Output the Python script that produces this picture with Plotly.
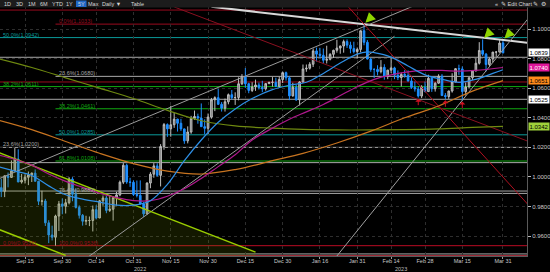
import plotly.graph_objects as go
import pandas as pd

# ---------------- DATA ----------------
trade_dates = list(pd.bdate_range("2022-09-05", "2023-03-31").strftime("%Y-%m-%d"))

opens = [
    # Sep
    0.9953,0.9928,0.9903,1.0008,0.9997,1.0041,1.0121,0.9966,0.9978,0.9998,1.0015,1.0026,0.9971,0.9836,0.9838,0.9690,0.9608,0.9593,0.9736,0.9818,
    # Oct
    0.9802,0.9826,0.9986,0.9883,0.9794,0.9741,0.9701,0.9706,0.9706,0.9779,0.9723,0.9839,0.9858,0.9774,0.9782,0.9861,0.9879,0.9965,1.0079,0.9966,0.9964,
    # Nov
    0.9882,0.9876,0.9818,0.9751,0.9959,1.0019,1.0075,1.0011,1.0206,1.0354,1.0325,1.0353,1.0391,1.0363,1.0325,1.0244,1.0304,1.0396,1.0409,1.0398,1.0340,1.0329,
    # Dec
    1.0405,1.0522,1.0536,1.0491,1.0465,1.0508,1.0556,1.0536,1.0537,1.0630,1.0678,1.0630,1.0585,1.0608,1.0622,1.0605,1.0596,1.0631,1.0639,1.0640,1.0612,1.0659,
    # Jan
    1.0705,1.0670,1.0548,1.0607,1.0521,1.0642,1.0730,1.0735,1.0762,1.0852,1.0830,1.0822,1.0789,1.0795,1.0829,1.0856,1.0871,1.0885,1.0915,1.0891,1.0868,1.0847,
    # Feb
    1.0862,1.0988,1.0910,1.0797,1.0727,1.0727,1.0712,1.0741,1.0679,1.0722,1.0737,1.0688,1.0672,1.0693,1.0687,1.0649,1.0605,1.0595,1.0547,1.0607,
    # Mar
    1.0577,1.0667,1.0596,1.0634,1.0681,1.0550,1.0544,1.0581,1.0642,1.0732,1.0730,1.0577,1.0608,1.0671,1.0717,1.0769,1.0855,1.0830,1.0760,1.0797,1.0844,1.0844,1.0905,
]
highs = [
    0.9953,0.9988,1.0011,1.0030,1.0112,1.0198,1.0187,1.0020,1.0018,1.0037,1.0030,1.0051,0.9974,0.9907,0.9852,0.9708,0.9671,0.9745,0.9838,0.9855,
    0.9852,0.9999,0.9999,0.9922,0.9808,0.9750,0.9738,0.9733,0.9807,0.9809,0.9845,0.9875,0.9872,0.9875,0.9868,0.9900,0.9976,1.0094,1.0090,0.9994,0.9977,
    0.9976,0.9977,0.9830,0.9964,1.0033,1.0094,1.0093,1.0222,1.0365,1.0362,1.0481,1.0433,1.0393,1.0393,1.0327,1.0342,1.0413,1.0449,1.0428,1.0497,1.0390,1.0429,
    1.0534,1.0545,1.0595,1.0506,1.0530,1.0564,1.0588,1.0572,1.0673,1.0695,1.0736,1.0637,1.0640,1.0658,1.0638,1.0650,1.0635,1.0644,1.0675,1.0671,1.0678,1.0713,
    1.0712,1.0683,1.0637,1.0624,1.0647,1.0760,1.0760,1.0776,1.0868,1.0874,1.0873,1.0868,1.0887,1.0836,1.0860,1.0927,1.0888,1.0928,1.0930,1.0914,1.0914,1.0875,
    1.0990,1.1033,1.0925,1.0805,1.0734,1.0755,1.0790,1.0762,1.0724,1.0805,1.0745,1.0720,1.0705,1.0722,1.0720,1.0673,1.0645,1.0613,1.0620,1.0645,
    1.0691,1.0675,1.0640,1.0694,1.0695,1.0567,1.0583,1.0701,1.0736,1.0759,1.0747,1.0638,1.0671,1.0723,1.0802,1.0911,1.0930,1.0838,1.0807,1.0845,1.0850,1.0925,1.0926,
]
lows = [
    0.9877,0.9864,0.9864,0.9930,0.9995,1.0041,0.9966,0.9955,0.9956,0.9945,0.9966,0.9971,0.9810,0.9807,0.9669,0.9553,0.9571,0.9536,0.9635,0.9748,
    0.9753,0.9815,0.9836,0.9787,0.9719,0.9671,0.9675,0.9668,0.9632,0.9713,0.9722,0.9806,0.9755,0.9764,0.9705,0.9807,0.9870,0.9952,0.9954,0.9933,0.9872,
    0.9862,0.9813,0.9730,0.9745,0.9924,0.9995,1.0002,0.9936,1.0184,1.0271,1.0272,1.0332,1.0307,1.0311,1.0224,1.0227,1.0292,1.0386,1.0360,1.0339,1.0289,1.0290,
    1.0394,1.0445,1.0487,1.0442,1.0442,1.0491,1.0523,1.0487,1.0518,1.0621,1.0602,1.0566,1.0574,1.0582,1.0591,1.0573,1.0584,1.0628,1.0611,1.0607,1.0610,1.0635,
    1.0651,1.0519,1.0543,1.0515,1.0483,1.0637,1.0711,1.0726,1.0743,1.0780,1.0802,1.0766,1.0767,1.0788,1.0805,1.0840,1.0833,1.0840,1.0872,1.0836,1.0835,1.0800,
    1.0842,1.0890,1.0794,1.0711,1.0669,1.0687,1.0700,1.0658,1.0661,1.0702,1.0661,1.0655,1.0612,1.0671,1.0645,1.0595,1.0577,1.0536,1.0533,1.0573,
    1.0575,1.0575,1.0577,1.0630,1.0548,1.0525,1.0528,1.0570,1.0640,1.0690,1.0516,1.0551,1.0604,1.0655,1.0713,1.0760,1.0818,1.0713,1.0750,1.0775,1.0812,1.0841,1.0835,
]
closes = [
    0.9928,0.9903,1.0008,0.9997,1.0041,1.0121,0.9966,0.9978,0.9998,1.0015,1.0026,0.9971,0.9836,0.9838,0.9690,0.9608,0.9593,0.9736,0.9818,0.9802,
    0.9826,0.9986,0.9883,0.9794,0.9741,0.9701,0.9706,0.9706,0.9779,0.9723,0.9839,0.9858,0.9774,0.9782,0.9861,0.9879,0.9965,1.0079,0.9966,0.9964,0.9882,
    0.9876,0.9818,0.9751,0.9959,1.0019,1.0075,1.0011,1.0206,1.0354,1.0325,1.0353,1.0391,1.0363,1.0325,1.0244,1.0304,1.0396,1.0409,1.0398,1.0340,1.0329,1.0405,
    1.0522,1.0536,1.0491,1.0465,1.0508,1.0556,1.0536,1.0537,1.0630,1.0678,1.0630,1.0585,1.0608,1.0622,1.0605,1.0596,1.0631,1.0639,1.0640,1.0612,1.0659,1.0705,
    1.0670,1.0548,1.0607,1.0521,1.0642,1.0730,1.0735,1.0762,1.0852,1.0830,1.0822,1.0789,1.0795,1.0829,1.0856,1.0871,1.0885,1.0915,1.0891,1.0868,1.0847,1.0862,
    1.0988,1.0910,1.0797,1.0727,1.0727,1.0712,1.0741,1.0679,1.0722,1.0737,1.0688,1.0672,1.0693,1.0687,1.0649,1.0605,1.0595,1.0547,1.0607,1.0577,
    1.0667,1.0596,1.0634,1.0681,1.0550,1.0544,1.0581,1.0642,1.0732,1.0730,1.0577,1.0608,1.0671,1.0717,1.0769,1.0855,1.0830,1.0760,1.0797,1.0844,1.0844,1.0905,1.0839,
]

# moving averages
ma_blue_dates = ["2022-09-05","2022-09-12","2022-09-19","2022-09-26","2022-10-03","2022-10-10","2022-10-17","2022-10-24",
                 "2022-10-31","2022-11-07","2022-11-14","2022-11-21","2022-11-28","2022-12-05","2022-12-12","2022-12-19",
                 "2022-12-27","2023-01-03","2023-01-10","2023-01-17","2023-01-24","2023-01-31","2023-02-03","2023-02-07",
                 "2023-02-14","2023-02-21","2023-02-28","2023-03-07","2023-03-14","2023-03-21","2023-03-28","2023-03-31"]
ma_blue_vals = [1.0070,1.0040,1.0010,0.9940,0.9880,0.9850,0.9830,0.9810,0.9810,0.9840,0.9950,1.0110,1.0250,1.0370,1.0460,1.0530,
                1.0590,1.0620,1.0640,1.0700,1.0770,1.0830,1.0845,1.0840,1.0810,1.0750,1.0690,1.0660,1.0640,1.0660,1.0700,1.0725]

ma_mag_dates = ["2022-09-05","2022-09-12","2022-09-19","2022-09-26","2022-10-03","2022-10-10","2022-10-17","2022-10-24",
                "2022-10-31","2022-11-07","2022-11-14","2022-11-21","2022-11-28","2022-12-05","2022-12-12","2022-12-19",
                "2022-12-27","2023-01-03","2023-01-10","2023-01-17","2023-01-24","2023-01-31","2023-02-07","2023-02-14",
                "2023-02-21","2023-02-28","2023-03-07","2023-03-14","2023-03-21","2023-03-31"]
ma_mag_vals = [1.0150,1.0120,1.0080,1.0020,0.9970,0.9930,0.9890,0.9860,0.9840,0.9840,0.9870,0.9920,0.9990,1.0070,1.0150,1.0250,
               1.0330,1.0390,1.0440,1.0490,1.0550,1.0610,1.0660,1.0690,1.0710,1.0720,1.0720,1.0715,1.0720,1.0740]

ma_org_dates = ["2022-09-05","2022-09-19","2022-10-03","2022-10-17","2022-10-31","2022-11-14","2022-11-28","2022-12-12",
                "2022-12-27","2023-01-09","2023-01-23","2023-02-06","2023-02-20","2023-03-06","2023-03-20","2023-03-31"]
ma_org_vals = [1.0385,1.0320,1.0240,1.0160,1.0090,1.0040,1.0020,1.0050,1.0110,1.0160,1.0230,1.0310,1.0400,1.0480,1.0580,1.0651]

ma_olv_dates = ["2022-09-05","2022-09-19","2022-10-03","2022-10-17","2022-10-31","2022-11-14","2022-11-28","2022-12-12",
                "2022-12-27","2023-01-09","2023-01-23","2023-02-06","2023-02-20","2023-03-06","2023-03-20","2023-03-31"]
ma_olv_vals = [1.0800,1.0740,1.0670,1.0600,1.0530,1.0450,1.0380,1.0345,1.0330,1.0322,1.0318,1.0318,1.0320,1.0325,1.0335,1.0342]

# Fibonacci sets
fib1_start = "2022-09-28"
fib1_pct = ["0.0%", "23.6%", "38.2%", "50.0%", "61.8%", "76.4%", "100.0%"]
fib1_vals = [1.1033, 1.0680, 1.0461, 1.0285, 1.0108, 0.9889, 0.9536]
fib2_pct = ["0.0%", "23.6%", "38.2%", "50.0%"]
fib2_vals = [0.9536, 1.0200, 1.0611, 1.0942]
# other horizontal levels (full width)
level_vals = [1.1128, 1.0809, 1.0642, 1.0525, 1.0097, 0.9905, 0.9480, 0.9468]

# trend lines: (start date, start price, end date, end price)
trend_lines = [
    ("2022-12-01", 1.1150, "2023-04-12", 1.0905),   # white resistance
    ("2022-09-05", 0.9985, "2023-02-28", 1.1188),   # grey upper channel
    ("2022-10-10", 0.9433, "2023-02-15", 1.0951),   # grey lower channel
    ("2023-01-23", 0.9466, "2023-04-12", 1.1087),   # grey steep
    ("2023-01-25", 1.1184, "2023-04-12", 0.9798),   # red steep
    ("2022-11-16", 1.1149, "2023-04-12", 1.0236),   # red shallow
    ("2022-09-05", 1.0168, "2022-12-20", 0.9492),   # lime upper
    ("2022-09-05", 0.9648, "2022-10-03", 0.9470),   # lime lower
]
peak_dates = ["2023-02-02", "2023-03-23", "2023-03-31"]
peak_vals = [1.1033, 1.0930, 1.0926]
trough_dates = ["2023-02-24", "2023-03-08", "2023-03-15"]
trough_vals = [1.0536, 1.0525, 1.0516]

tick_dates = ["2022-09-15","2022-09-30","2022-10-14","2022-10-31","2022-11-15","2022-11-30","2022-12-15",
              "2022-12-30","2023-01-16","2023-01-31","2023-02-14","2023-02-28","2023-03-15","2023-03-31"]
tick_text = ["Sep 15","Sep 30","Oct 14","Oct 31","Nov 15","Nov 30","Dec 15",
             "Dec 30","Jan 16","Jan 31","Feb 14","Feb 28","Mar 15","Mar 31"]
year_dates = ["2022-11-02", "2023-02-17"]
year_text = ["2022", "2023"]
price_ticks = [0.96, 0.98, 1.00, 1.02, 1.04, 1.06, 1.08, 1.10]

# ---------------- STYLES ----------------
FONT = "Liberation Sans, Arial, sans-serif"
RED = "#9a0a1e"
GREY = "#a8a8a8"
GREEN = "#11a811"
TEAL = "#0a9a9a"
fib1_colors = [RED, GREY, GREEN, TEAL, GREEN, GREY, RED]
fib2_colors = [RED, GREY, GREEN, TEAL]
level_colors = [RED, GREY, RED, GREY, GREY, GREY, GREY, "#c03040"]
trend_colors = ["#d8d8d8", "#9a9a9a", "#9a9a9a", "#a0a0a0", "#b01020", "#8a1020", "#9acd00", "#9acd00"]
trend_widths = [2, 1, 1, 1, 1, 1, 1.5, 1.5]

fig = go.Figure()

# channel fill
lu = trend_lines[6]
fig.add_trace(go.Scatter(x=[lu[0], lu[2], lu[2], lu[0]], y=[lu[1], lu[3], 0.90, 0.90],
                         fill="toself", fillcolor="rgba(110,140,0,0.17)", mode="none",
                         hoverinfo="skip", showlegend=False))

shapes = []
annotations = []
for v, c in zip(level_vals, level_colors):
    shapes.append(dict(type="line", xref="paper", x0=0, x1=1, yref="y", y0=v, y1=v,
                       line=dict(color=c, width=1), layer="below"))
for p, v, c in zip(fib2_pct, fib2_vals, fib2_colors):
    shapes.append(dict(type="line", xref="paper", x0=0, x1=1, yref="y", y0=v, y1=v,
                       line=dict(color=c, width=1), layer="below"))
    annotations.append(dict(xref="paper", x=0, xshift=1, y=v, yref="y", yanchor="bottom", xanchor="left",
                            text=f"{p}({v:.4f})", showarrow=False, yshift=-2,
                            font=dict(size=5.5, color=c, family=FONT)))
for p, v, c in zip(fib1_pct, fib1_vals, fib1_colors):
    shapes.append(dict(type="line", xref="x", x0=fib1_start, x1="2023-04-14", yref="y", y0=v, y1=v,
                       line=dict(color=c, width=1), layer="below"))
    annotations.append(dict(xref="x", x=fib1_start, xshift=1, y=v, yref="y", yanchor="bottom", xanchor="left",
                            text=f"{p}({v:.4f})", showarrow=False, yshift=-2,
                            font=dict(size=5.5, color=c, family=FONT)))

for (d0, v0, d1, v1), c, w in zip(trend_lines, trend_colors, trend_widths):
    fig.add_trace(go.Scatter(x=[d0, d1], y=[v0, v1], mode="lines", line=dict(color=c, width=w),
                             hoverinfo="skip", showlegend=False))

for d, v, c, w in [(ma_olv_dates, ma_olv_vals, "#6f8a10", 1.2), (ma_org_dates, ma_org_vals, "#c87420", 1.2),
                   (ma_mag_dates, ma_mag_vals, "#b0188e", 1.2), (ma_blue_dates, ma_blue_vals, "#2e8fe6", 1.2)]:
    fig.add_trace(go.Scatter(x=d, y=v, mode="lines", line=dict(color=c, width=w, shape="spline"),
                             hoverinfo="skip", showlegend=False))

fig.add_trace(go.Candlestick(
    x=trade_dates, open=opens, high=highs, low=lows, close=closes,
    increasing=dict(line=dict(color="#bdbdbd", width=1), fillcolor="#7a7a7a"),
    decreasing=dict(line=dict(color="#1e8fff", width=1), fillcolor="#1e8fff"),
    whiskerwidth=0, showlegend=False, hoverinfo="skip"))

# arrows
for d, v in zip(peak_dates, peak_vals):
    annotations.append(dict(x=d, y=v, xref="x", yref="y", showarrow=True, ax=9, ay=-9,
                            arrowhead=2, arrowsize=0.9, arrowwidth=2.2, arrowcolor="#8fd400", standoff=2, text=""))
for d, v in zip(trough_dates, trough_vals):
    annotations.append(dict(x=d, y=v, xref="x", yref="y", showarrow=True, ax=0, ay=9,
                            arrowhead=1, arrowsize=1, arrowwidth=1, arrowcolor="#d01020", standoff=1, text=""))

# right axis value boxes
boxes = [(closes[-1], "#ffffff", "#000000"), (ma_mag_vals[-1], "#e0169a", "#ffffff"),
         (ma_org_vals[-1], "#ff8a1c", "#000000"), (level_vals[3], "#ffffff", "#000000"),
         (ma_olv_vals[-1], "#9ed23a", "#000000")]
for v, bg, fc in boxes:
    annotations.append(dict(xref="paper", x=1, xanchor="left", xshift=1, yref="y", y=v, text=f"{v:.4f}",
                            showarrow=False, bgcolor=bg, borderpad=0.5,
                            font=dict(size=6, color=fc, family=FONT)))

# years
for d, t in zip(year_dates, year_text):
    annotations.append(dict(xref="x", x=d, yref="paper", y=-13 / 256, yanchor="middle", text=t,
                            showarrow=False, font=dict(size=5.5, color="#bdbdbd", family=FONT)))

# toolbar
PW = 527.0
shapes.append(dict(type="rect", xref="paper", yref="paper", x0=0, x1=550 / PW, y0=1 - 7.5 / 256, y1=1.01,
                   fillcolor="#1c1c1c", line=dict(width=0), layer="above"))
shapes.append(dict(type="rect", xref="paper", yref="paper", x0=76 / PW, x1=86.5 / PW, y0=1 - 7 / 256, y1=1 - 0.5 / 256,
                   fillcolor="#1f68c8", line=dict(width=0), layer="above"))
for px, t in [(7, "1D"), (19, "3D"), (31.5, "1M"), (43.5, "6M"), (57, "YTD"), (69.5, "1Y"), (81, "5Y"),
              (93.5, "Max"), (111, "Daily ▼"), (137.5, "Table"), (496, "«"), (516, "✎ Edit Chart"),
              (535, "✎"), (543, "⚙")]:
    annotations.append(dict(xref="paper", x=px / PW, yref="paper", y=1 - 3.8 / 256, text=t, showarrow=False,
                            xanchor="center", yanchor="middle", font=dict(size=5.5, color="#d6d6d6", family=FONT)))

fig.update_layout(
    width=550, height=272, margin=dict(l=0, r=23, t=0, b=16),
    paper_bgcolor="#000000", plot_bgcolor="#000000",
    font=dict(family=FONT, size=6, color="#c8c8c8"),
    showlegend=False, shapes=shapes, annotations=annotations,
    xaxis=dict(type="date", range=["2022-09-05 15:00", "2023-04-11 02:00"],
               rangebreaks=[dict(bounds=["sat", "mon"])],
               tickvals=tick_dates, ticktext=tick_text, tickfont=dict(size=5.5, color="#c8c8c8"),
               ticks="outside", ticklen=2, tickcolor="#9a9a9a", ticklabelstandoff=-3,
               showgrid=True, gridcolor="#2e2e2e", griddash="dot", gridwidth=1,
               showline=True, linecolor="#5a5a5a", rangeslider=dict(visible=False), zeroline=False),
    yaxis=dict(side="right", range=[0.9466, 1.1196], tickvals=price_ticks, tickformat=".4f",
               tickfont=dict(size=6, color="#c8c8c8"), ticks="outside", ticklen=3, tickcolor="#bdbdbd",
               showgrid=True, gridcolor="#2e2e2e", griddash="dot", gridwidth=1,
               showline=True, linecolor="#5a5a5a", zeroline=False),
)

fig.write_html("out.html")
